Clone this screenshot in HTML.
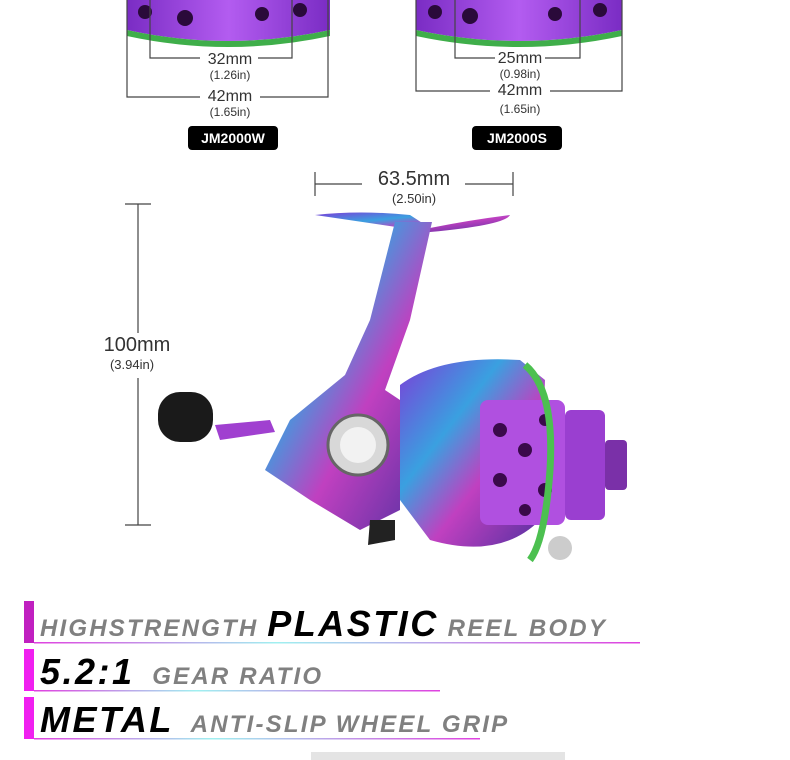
<!DOCTYPE html>
<html><head><meta charset="utf-8"><style>
body{margin:0;width:790px;height:760px;background:#fff;position:relative;overflow:hidden;font-family:"Liberation Sans",sans-serif}
.t{position:absolute;color:#333;white-space:nowrap;text-align:center}
.tag{position:absolute;background:#000;color:#fff;font-weight:bold;font-size:14px;border-radius:4px;text-align:center;line-height:24px}
.row{position:absolute;font-style:italic;font-weight:bold;white-space:nowrap}
.g{color:#808080;font-size:24px;letter-spacing:2.2px}
.b{color:#000;font-size:36px;letter-spacing:2.5px}
</style></head><body>
<svg width="790" height="760" style="position:absolute;left:0;top:0">
<defs>
<linearGradient id="pp" x1="0" x2="1"><stop offset="0" stop-color="#7a2cc4"/><stop offset=".5" stop-color="#b35cf0"/><stop offset="1" stop-color="#7a2cc4"/></linearGradient>
<linearGradient id="ir" x1="0" y1="0" x2="1" y2="1"><stop offset="0" stop-color="#7b3fd8"/><stop offset=".35" stop-color="#3aa0e0"/><stop offset=".6" stop-color="#c040c0"/><stop offset="1" stop-color="#5030a0"/></linearGradient>
<linearGradient id="ln1" x1="0" x2="1"><stop offset="0" stop-color="#e040e0"/><stop offset=".4" stop-color="#a0f0f0"/><stop offset="1" stop-color="#e040e0"/></linearGradient>
</defs>
<path d="M127 0 H330 V30 Q228 52 127 30 Z" fill="url(#pp)"/>
<path d="M127 30 Q228 52 330 30 V36 Q228 58 127 36Z" fill="#3fae4a"/>
<path d="M416 0 H622 V30 Q519 52 416 30 Z" fill="url(#pp)"/>
<path d="M416 30 Q519 52 622 30 V36 Q519 58 416 36Z" fill="#3fae4a"/>
<g fill="#2a0a3a"><circle cx="145" cy="12" r="7"/><circle cx="185" cy="18" r="8"/><circle cx="262" cy="14" r="7"/><circle cx="300" cy="10" r="7"/><circle cx="435" cy="12" r="7"/><circle cx="470" cy="16" r="8"/><circle cx="555" cy="14" r="7"/><circle cx="600" cy="10" r="7"/></g>
<g stroke="#444" fill="none" stroke-width="1.2">
<path d="M150 0 V58 H200 M258 58 H292 V0"/>
<path d="M127 0 V97 H200 M260 97 H328 V0"/>
<path d="M455 0 V58 H495 M545 58 H580 V0"/>
<path d="M416 0 V91 H490 M550 91 H622 V0"/>
<path d="M315 172 V196 M315 184 H362 M465 184 H513 M513 172 V196"/>
<path d="M125 204 H151 M138 204 V333 M138 378 V525 M125 525 H151"/>
</g>
<path d="M315 215 Q360 210 410 215 L430 228 Q470 220 510 215 Q505 225 430 232 Z" fill="url(#ir)"/>
<path d="M395 222 L432 222 L410 320 L385 390 L400 400 L400 510 L360 530 L310 500 L265 470 L290 420 L345 375 L370 320 Z" fill="url(#ir)"/>
<circle cx="358" cy="445" r="30" fill="#d8d8d8" stroke="#666" stroke-width="3"/>
<circle cx="358" cy="445" r="18" fill="#f2f2f2"/>
<path d="M400 385 Q440 355 520 360 L545 380 L540 520 Q500 560 430 540 L400 500 Z" fill="url(#ir)"/>
<rect x="480" y="400" width="85" height="125" rx="8" fill="#b050e0"/>
<g fill="#3a0a4a"><circle cx="500" cy="430" r="7"/><circle cx="525" cy="450" r="7"/><circle cx="500" cy="480" r="7"/><circle cx="545" cy="420" r="6"/><circle cx="545" cy="490" r="7"/><circle cx="525" cy="510" r="6"/></g>
<rect x="565" y="410" width="40" height="110" rx="6" fill="#9a3fd0"/>
<rect x="605" y="440" width="22" height="50" rx="4" fill="#7a30a8"/>
<path d="M525 365 Q555 390 550 470 Q545 540 530 560" stroke="#4cc050" stroke-width="7" fill="none"/>
<circle cx="560" cy="548" r="12" fill="#ccc"/>
<path d="M215 425 L270 420 L275 432 L220 440Z" fill="#a040d0"/>
<rect x="158" y="392" width="55" height="50" rx="22" fill="#1a1a1a"/>
<path d="M370 520 L395 520 L395 540 L368 545Z" fill="#222"/>
<rect x="24" y="601" width="10" height="42" fill="#c020c0"/>
<rect x="24" y="649" width="10" height="42" fill="#f020f0"/>
<rect x="24" y="697" width="10" height="42" fill="#f020f0"/>
<rect x="34" y="642" width="606" height="1.5" fill="url(#ln1)"/>
<rect x="34" y="690" width="406" height="1.5" fill="url(#ln1)"/>
<rect x="34" y="738" width="446" height="1.5" fill="url(#ln1)"/>
<rect x="311" y="752" width="254" height="8" fill="#e4e4e4"/>
</svg>
<div class="t" style="left:190px;top:51px;width:80px;font-size:16px">32mm</div>
<div class="t" style="left:190px;top:68px;width:80px;font-size:12px">(1.26in)</div>
<div class="t" style="left:190px;top:88px;width:80px;font-size:16px">42mm</div>
<div class="t" style="left:190px;top:105px;width:80px;font-size:12px">(1.65in)</div>
<div class="t" style="left:480px;top:50px;width:80px;font-size:16px">25mm</div>
<div class="t" style="left:480px;top:67px;width:80px;font-size:12px">(0.98in)</div>
<div class="t" style="left:480px;top:82px;width:80px;font-size:16px">42mm</div>
<div class="t" style="left:480px;top:102px;width:80px;font-size:12px">(1.65in)</div>
<div class="tag" style="left:188px;top:126px;width:90px">JM2000W</div>
<div class="tag" style="left:472px;top:126px;width:90px">JM2000S</div>
<div class="t" style="left:364px;top:168px;width:100px;font-size:20px">63.5mm</div>
<div class="t" style="left:364px;top:191px;width:100px;font-size:13px">(2.50in)</div>
<div class="t" style="left:92px;top:334px;width:90px;font-size:20px">100mm</div>
<div class="t" style="left:92px;top:357px;width:80px;font-size:13px">(3.94in)</div>
<div class="row" style="left:40px;top:603px"><span class="g">HIGHSTRENGTH </span><span class="b">PLASTIC</span><span class="g"> REEL BODY</span></div>
<div class="row" style="left:40px;top:651px"><span class="b">5.2:1</span><span class="g">&nbsp; GEAR RATIO</span></div>
<div class="row" style="left:40px;top:699px"><span class="b">METAL</span><span class="g">&nbsp; ANTI-SLIP WHEEL GRIP</span></div>
</body></html>
